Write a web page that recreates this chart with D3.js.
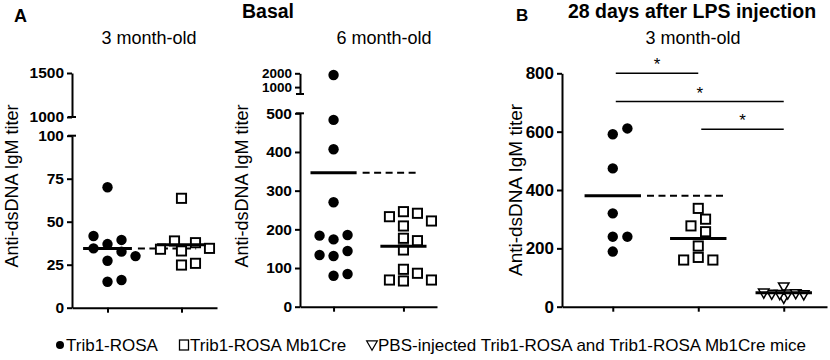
<!DOCTYPE html>
<html>
<head>
<meta charset="utf-8">
<script src="https://cdn.jsdelivr.net/npm/d3@7"></script>
<style>
  body { margin: 0; background: #fff; }
  svg { font-family: "Liberation Sans", Arial, sans-serif; }
  .axis path, .axis line { stroke: #000; stroke-width: 2; }
  .axis text { font-weight: bold; fill: #000; }
</style>
</head>
<body>
<div id="chart"></div>
<script>
// groups
const groupsA = ['Trib1-ROSA', 'Trib1-ROSA Mb1Cre'];
const groupsB = ['Trib1-ROSA', 'Trib1-ROSA Mb1Cre', 'PBS-injected'];

// anti-dsDNA IgM titer
const basal3Rosa = [70, 37, 27.3, 15.1, 39.4, 41.7, 32.6, 34.5, 30, 16.1];
const basal3Cre = [63.6, 33, 24.8, 37.8, 38.8, 34, 34.5, 25.8];
const basal6Rosa = [1880, 483, 407, 270, 174, 185.4, 183.7, 131, 144, 133.7, 80, 84.6];
const basal6Cre = [208.7, 245.7, 241.5, 232.7, 221.6, 146.6, 176.9, 170.7, 96.7, 86.4, 66.5, 69, 69];
const lpsRosa = [591, 611, 474, 320, 240, 240, 189];
const lpsCre = [337, 300, 277, 257, 208, 169, 160, 160];
const lpsPbs = [71, 32, 47, 45, 48, 46, 44, 50];

// tick values
const ticks3Lower = [0, 25, 50, 75, 100];
const ticks3Upper = [1000, 1500];
const ticks6Lower = [0, 100, 200, 300, 400, 500];
const ticks6Upper = [1000, 2000];
const ticksLps = [0, 200, 400, 600, 800];

// significance: [group a, group b, level]
const lpsComparisons = [[0, 1, 800], [0, 2, 703], [1, 2, 608]];

const legendItems = ['Trib1-ROSA', 'Trib1-ROSA Mb1Cre', 'PBS-injected Trib1-ROSA and Trib1-ROSA Mb1Cre mice'];

const width = 830, height = 360;

const svg = d3.select('#chart')
  .append('svg')
  .attr('width', width)
  .attr('height', height);

// spacing of the swarm per series kind: [step, min distance]
const swarmA = [[7, 11], [7, 11]];
const swarmB = [[7.3, 11], [7.3, 11], [4, 5]];

const panels = [
  {
    groups: groupsA, series: [basal3Rosa, basal3Cre], swarm: swarmA,
    left: 72, right: 217, padding: 0.48, align: 0.5,
    segments: [
      { domain: [0, 100], range: [307.7, 135.7], ticks: ticks3Lower, font: 15.5 },
      { domain: [1000, 1500], range: [117, 73], ticks: ticks3Upper, font: 15.5 }
    ],
    labelX: 18, labelY: 186, labelFont: 18, refEnd: 0.6
  },
  {
    groups: groupsA, series: [basal6Rosa, basal6Cre], swarm: swarmA,
    left: 300, right: 437, padding: 0.48, align: 0.5,
    segments: [
      { domain: [0, 500], range: [306.7, 113.3], ticks: ticks6Lower, font: 15.5 },
      { domain: [500, 2000], range: [94, 73.3], ticks: ticks6Upper, font: 13.5 }
    ],
    labelX: 248, labelY: 186, labelFont: 18, refEnd: 0.6
  },
  {
    groups: groupsB, series: [lpsRosa, lpsCre, lpsPbs], swarm: swarmB,
    left: 562, right: 827, padding: 0.55, align: 0.54,
    segments: [
      { domain: [0, 800], range: [306.7, 73.3], ticks: ticksLps, font: 17 }
    ],
    labelX: 522, labelY: 190, labelFont: 19, refEnd: 1,
    comparisons: lpsComparisons
  }
];

// simple swarm: place each point at the first free offset round the group centre
function swarm(values, yOf, cx, step, minDist) {
  const placed = [];
  return values.map(v => {
    const y = yOf(v);
    let x = cx;
    for (let k = 0; k < 14; k++) {
      const off = k === 0 ? 0 : (k % 2 ? 1 : -1) * Math.ceil(k / 2) * step;
      if (placed.every(p => Math.hypot(p.x - (cx + off), p.y - y) >= minDist)) {
        x = cx + off;
        break;
      }
    }
    placed.push({ x, y });
    return { v, x, y };
  });
}

function drawMarker(g, kind, x, y) {
  if (kind === 0) {
    g.append('circle').attr('cx', x).attr('cy', y).attr('r', 5.2).attr('fill', '#000');
  } else if (kind === 1) {
    g.append('rect').attr('x', x - 4.6).attr('y', y - 4.6).attr('width', 9.2).attr('height', 9.2)
      .attr('fill', '#fff').attr('stroke', '#000').attr('stroke-width', 1.9);
  } else {
    g.append('path')
      .attr('d', d3.symbol(d3.symbolTriangle, 48)())
      .attr('transform', `translate(${x},${y}) rotate(180)`)
      .attr('fill', '#fff').attr('stroke', '#000').attr('stroke-width', 1.5);
  }
}

panels.forEach(p => {
  const g = svg.append('g');

  const scales = p.segments.map(s => d3.scaleLinear().domain(s.domain).range(s.range));
  const yOf = v => {
    const i = p.segments.findIndex(s => v >= s.domain[0] && v <= s.domain[1]);
    return scales[i](v);
  };

  const x = d3.scalePoint()
    .domain(p.groups)
    .range([p.left, p.right])
    .padding(p.padding)
    .align(p.align);

  // y axis, one piece per segment
  p.segments.forEach((s, i) => {
    const axis = d3.axisLeft(scales[i])
      .tickValues(s.ticks)
      .tickFormat(d3.format('d'))
      .tickSize(5)
      .tickSizeOuter(0)
      .tickPadding(3);
    const ag = g.append('g')
      .attr('class', 'axis')
      .attr('transform', `translate(${p.left},0)`)
      .call(axis);
    ag.selectAll('text').style('font-size', s.font + 'px');
    if (p.segments.length > 1) {
      // break caps
      const end = i === 0 ? s.domain[1] : s.domain[0];
      ag.append('line')
        .attr('x1', -4).attr('x2', 4)
        .attr('y1', scales[i](end)).attr('y2', scales[i](end));
    }
  });

  // x axis
  const base = p.segments[0].range[0];
  g.append('g')
    .attr('class', 'axis')
    .attr('transform', `translate(0,${base})`)
    .call(d3.axisBottom(x).tickSize(5).tickSizeOuter(0).tickFormat(''));

  // y axis title
  g.append('text')
    .attr('transform', `translate(${p.labelX},${p.labelY}) rotate(-90)`)
    .attr('text-anchor', 'middle')
    .style('font-size', p.labelFont + 'px')
    .text('Anti-dsDNA IgM titer');

  const hw = x.step() * 0.33;
  const means = p.series.map(vals => d3.mean(vals));

  // dashed line at the control mean
  g.append('line')
    .attr('x1', x(p.groups[0]) + hw + 6)
    .attr('x2', x(p.groups[1]) + hw * p.refEnd)
    .attr('y1', yOf(means[0])).attr('y2', yOf(means[0]))
    .attr('stroke', '#000').attr('stroke-width', 2)
    .attr('stroke-dasharray', '7,4.5');

  // points
  p.series.forEach((vals, si) => {
    const [step, minDist] = p.swarm[si];
    const pts = swarm(vals, yOf, x(p.groups[si]), step, minDist);
    pts.forEach(d => drawMarker(g, si, d.x, d.y));
  });

  // mean lines
  p.series.forEach((vals, si) => {
    const cx = x(p.groups[si]);
    g.append('line')
      .attr('x1', cx - hw).attr('x2', cx + hw)
      .attr('y1', yOf(means[si])).attr('y2', yOf(means[si]))
      .attr('stroke', '#000').attr('stroke-width', 3);
  });

  // significance bars
  (p.comparisons || []).forEach(([a, b, lvl]) => {
    const x1 = x(p.groups[a]) + 3, x2 = x(p.groups[b]);
    g.append('line')
      .attr('x1', x1).attr('x2', x2)
      .attr('y1', yOf(lvl)).attr('y2', yOf(lvl))
      .attr('stroke', '#000').attr('stroke-width', 1.5);
    g.append('text')
      .attr('x', (x1 + x2) / 2)
      .attr('y', yOf(lvl) - 3)
      .attr('text-anchor', 'middle')
      .style('font-size', '17px')
      .text('*');
  });
});

// titles
const titles = [
  { t: 'A', x: 14, y: 22, anchor: 'start', bold: true, size: 18 },
  { t: 'Basal', x: 268, y: 18, anchor: 'middle', bold: true, size: 19.5 },
  { t: '3 month-old', x: 149, y: 44, anchor: 'middle', bold: false, size: 18 },
  { t: '6 month-old', x: 384, y: 44, anchor: 'middle', bold: false, size: 18 },
  { t: 'B', x: 516, y: 21, anchor: 'start', bold: true, size: 17 },
  { t: '28 days after LPS injection', x: 692, y: 18, anchor: 'middle', bold: true, size: 19.5 },
  { t: '3 month-old', x: 693, y: 44, anchor: 'middle', bold: false, size: 18 }
];
svg.selectAll('.title')
  .data(titles)
  .enter()
  .append('text')
  .attr('class', 'title')
  .attr('x', d => d.x)
  .attr('y', d => d.y)
  .attr('text-anchor', d => d.anchor)
  .style('font-weight', d => d.bold ? 'bold' : 'normal')
  .style('font-size', d => d.size + 'px')
  .text(d => d.t);

// legend
const legendX = [60, 184, 372];
const legend = svg.append('g');
legendItems.forEach((name, i) => {
  const lx = legendX[i], ly = 345;
  if (i === 0) {
    legend.append('circle').attr('cx', lx).attr('cy', ly).attr('r', 4).attr('fill', '#000');
  } else if (i === 1) {
    legend.append('rect').attr('x', lx - 4.5).attr('y', ly - 5).attr('width', 9).attr('height', 10)
      .attr('fill', 'none').attr('stroke', '#000').attr('stroke-width', 1.3);
  } else {
    legend.append('path')
      .attr('d', d3.symbol(d3.symbolTriangle, 50)())
      .attr('transform', `translate(${lx},${ly - 1}) rotate(180)`)
      .attr('fill', 'none').attr('stroke', '#000').attr('stroke-width', 1.2);
  }
  legend.append('text')
    .attr('x', lx + 6)
    .attr('y', ly + 6)
    .style('font-size', '17px')
    .text(name);
});
</script>
</body>
</html>
